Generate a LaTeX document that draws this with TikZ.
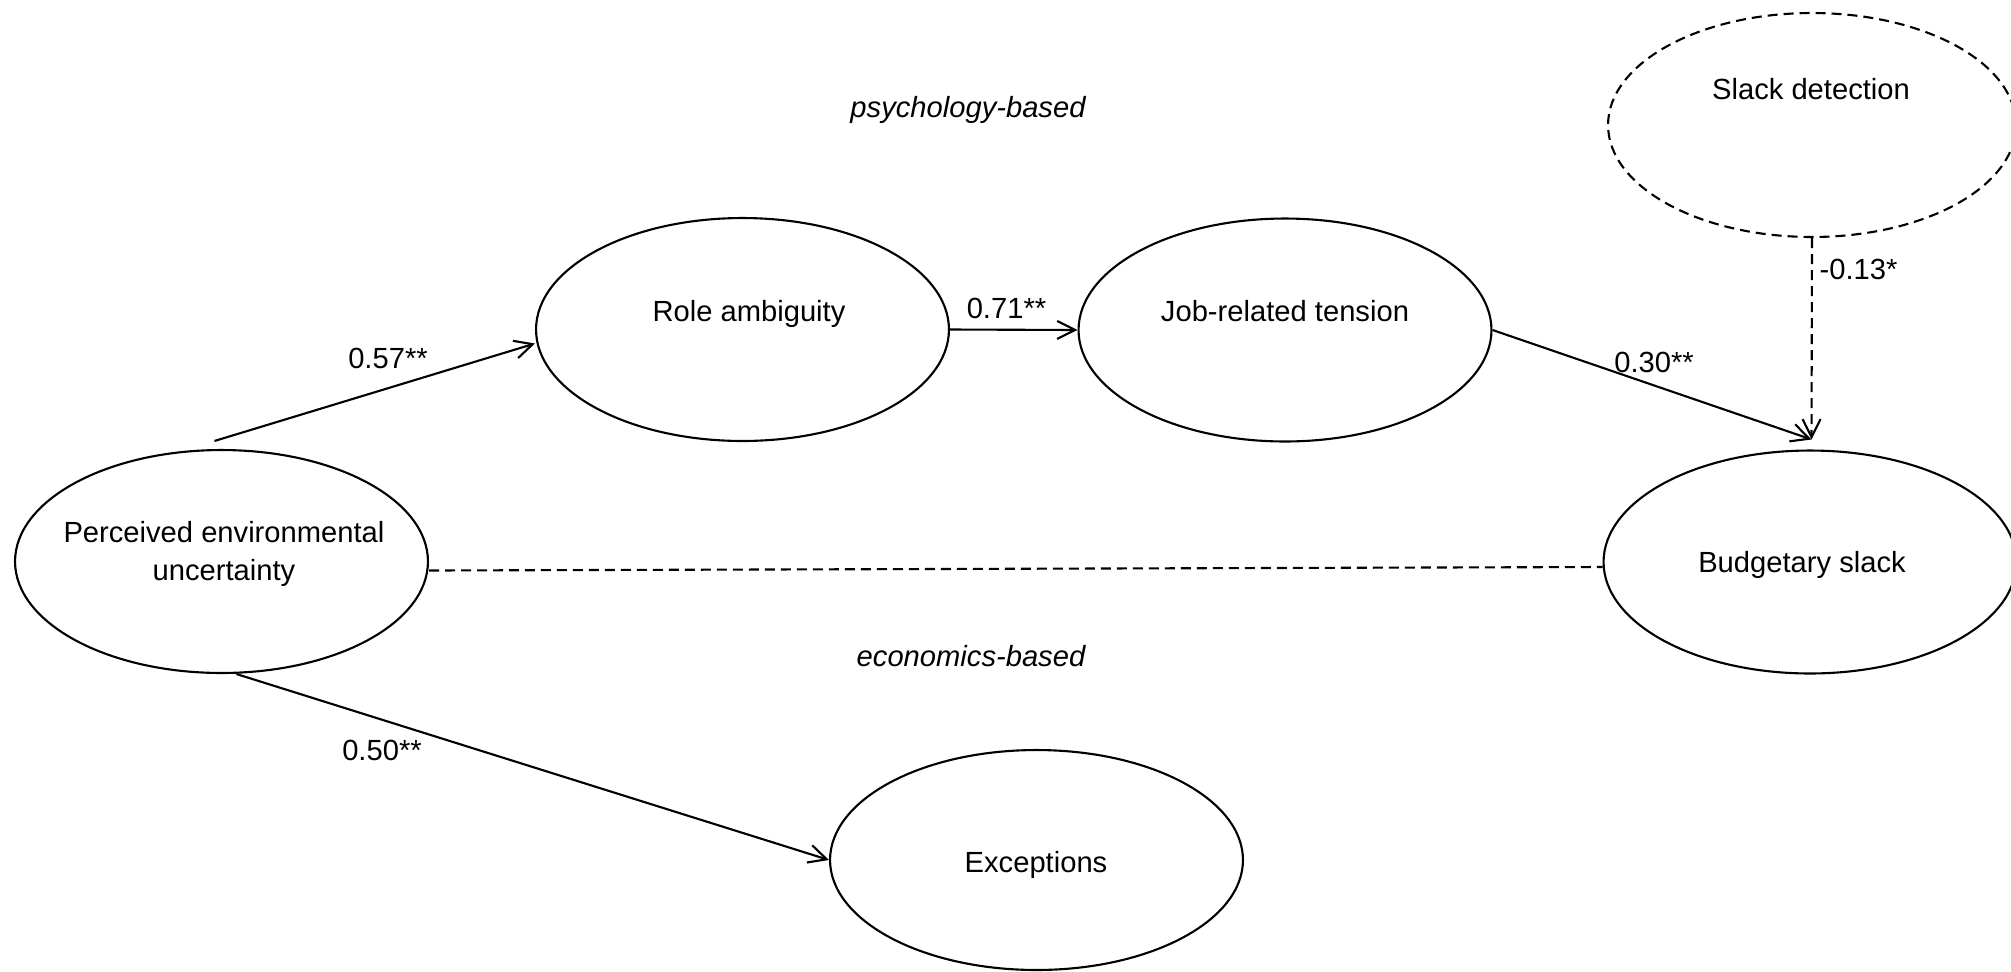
\documentclass[tikz,border=0pt]{standalone}
\usepackage{fontspec}
\setmainfont{Liberation Sans}
\usepackage{tikz}
\usetikzlibrary{arrows.meta,shapes.geometric,calc}

\begin{document}
\begin{tikzpicture}[x=0.02cm,y=-0.02cm,line width=1.2pt,
  font=\fontsize{16.6}{21.6}\selectfont,
  latent/.style={ellipse,draw,inner sep=0pt,minimum width=8.26cm,minimum height=4.46cm},
  dashline/.style={dash pattern=on 0.2cm off 0.12cm},
  effect/.style={-{Straight Barb[length=0.36cm,width=0.36cm]}},
  coef/.style={anchor=base}]
  \useasboundingbox (0,0) rectangle (2011,971);

  \node[latent] (peu) at (221.5,561.5) {};
  \node[latent] (role) at (742.5,329.5) {};
  \node[latent] (job) at (1285,330) {};
  \node[latent,dashline,minimum width=8.16cm,minimum height=4.48cm] (slack) at (1812,125) {};
  \node[latent] (bud) at (1810,562) {};
  \node[latent,minimum height=4.4cm] (exc) at (1036.5,860) {};

  \node[align=center] (peu-t) at (224,553.5) {Perceived environmental\\uncertainty};
  \node[coef] (role-t) at (749,321) {Role ambiguity};
  \node[coef] (job-t) at (1285,321) {Job-related tension};
  \node[coef] (slack-t) at (1811,99) {Slack detection};
  \node[coef] (bud-t) at (1802,572) {Budgetary slack};
  \node[coef] (exc-t) at (1036,872) {Exceptions};

  \node[coef,font=\fontsize{16.6}{21.6}\selectfont\itshape] (psy) at (968,117) {psychology-based};
  \node[coef,font=\fontsize{16.6}{21.6}\selectfont\itshape] (eco) at (971,666) {economics-based};

  \coordinate (bud-in) at ($(bud.north)+(1.5,-10)$);

  \draw[effect] ($(peu.north)+(-7,-8)$) -- ($(role.west)+(0,14)$);
  \draw[effect] (role.east) -- (job.west);
  \draw[effect] (job.east) -- (bud-in);
  \draw[effect,dashline] (slack.south) -- (bud-in);
  \draw[dashline] ($(peu.east)+(0,9)$) -- ($(bud.west)+(0,5)$);
  \draw[effect] ($(peu.south)+(15,0)$) -- (exc.west);

  \node[coef] (c1) at (388,368) {0.57**};
  \node[coef] (c2) at (1006.5,318) {0.71**};
  \node[coef] (c3) at (1654,372) {0.30**};
  \node[coef] (c4) at (1858.5,279) {-0.13*};
  \node[coef] (c5) at (382,760) {0.50**};
\end{tikzpicture}
\end{document}
